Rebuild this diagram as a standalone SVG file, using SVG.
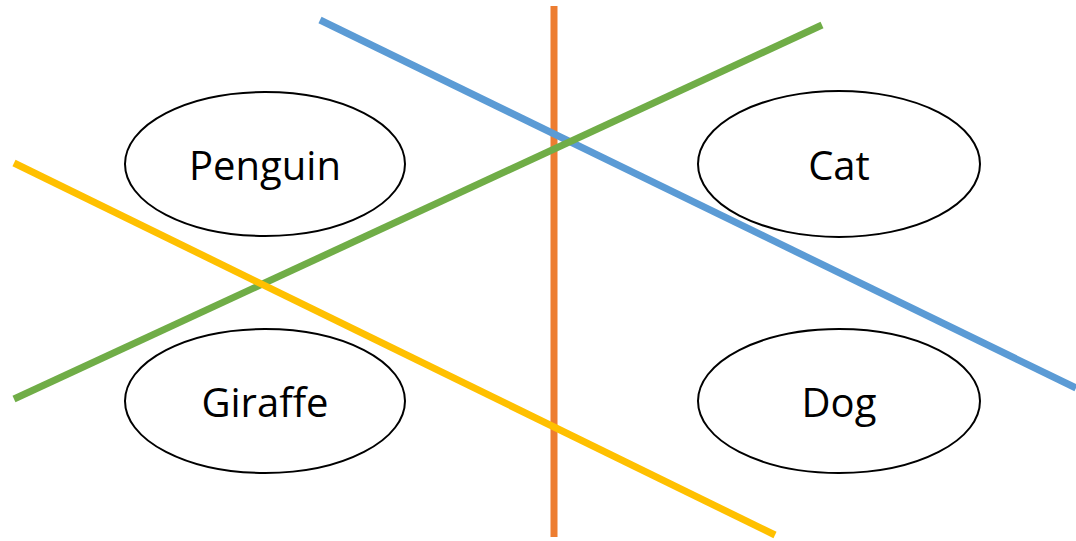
<svg xmlns="http://www.w3.org/2000/svg" width="1076" height="541" viewBox="0 0 1076 541">
  <style>
    .node ellipse { fill: #ffffff; stroke: #000000; stroke-width: 2; }
    .node text { font-family: "Open Sans", "Liberation Sans", sans-serif; font-size: 40px; fill: #000000; text-anchor: middle; dominant-baseline: central; }
    .line { stroke-width: 7; fill: none; }
  </style>
  <rect width="1076" height="541" fill="#ffffff"/>
  <g id="penguin" class="node">
    <ellipse cx="265" cy="164" rx="140" ry="72"/>
    <text x="265" y="164">Penguin</text>
  </g>
  <g id="cat" class="node">
    <ellipse cx="839" cy="164" rx="141" ry="73"/>
    <text x="839" y="164">Cat</text>
  </g>
  <g id="giraffe" class="node">
    <ellipse cx="265" cy="401" rx="140" ry="72"/>
    <text x="265" y="401">Giraffe</text>
  </g>
  <g id="dog" class="node">
    <ellipse cx="839" cy="401" rx="141" ry="72"/>
    <text x="839" y="401">Dog</text>
  </g>
  <g id="connectors">
    <line class="line" x1="554" y1="6" x2="554" y2="537" stroke="#ED7D31"/>
    <line class="line" x1="320" y1="20" x2="1076" y2="388" stroke="#5B9BD5"/>
    <line class="line" x1="14" y1="399" x2="822" y2="25" stroke="#70AD47"/>
    <line class="line" x1="14" y1="163" x2="775" y2="535" stroke="#FFC000"/>
  </g>
</svg>
